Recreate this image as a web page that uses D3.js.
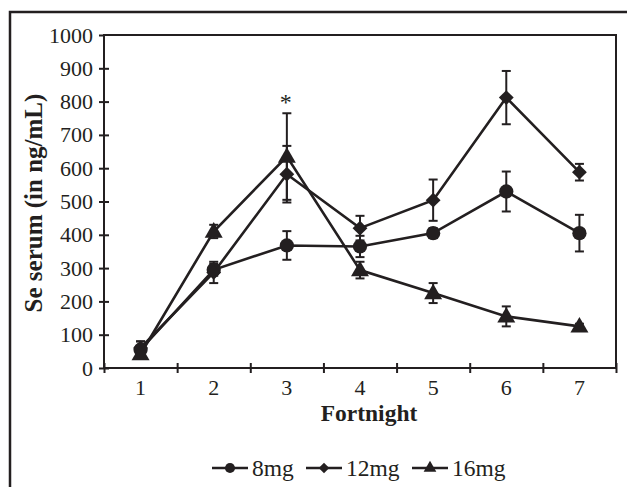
<!DOCTYPE html>
<html>
<head>
<meta charset="utf-8">
<script src="https://cdn.jsdelivr.net/npm/d3@7"></script>
<style>
  body { margin: 0; background: #fff; }
  svg text { font-family: "Liberation Serif", "Times New Roman", serif; fill: #231f20; }
</style>
</head>
<body>
<svg id="chart"></svg>
<script>
const width = 627;
const height = 487;
const ink = "#231f20";

// Data
const fortnights = ["1", "2", "3", "4", "5", "6", "7"];
const mean8 = [55, 295, 368, 365, 405, 530, 405];
const err8 = [25, 18, 43, 32, 15, 60, 55];
const mean12 = [60, 287, 582, 420, 504, 812, 588];
const err12 = [20, 32, 85, 37, 62, 80, 25];
const mean16 = [42, 410, 635, 294, 225, 155, 125];
const err16 = [8, 20, 130, 25, 30, 30, 8];
const yTicks = [0, 100, 200, 300, 400, 500, 600, 700, 800, 900, 1000];

const series = [
    { name: "8mg", symbol: d3.symbolCircle, size: 160, values: mean8, errors: err8 },
    { name: "12mg", symbol: d3.symbolDiamond2, size: 140, values: mean12, errors: err12 },
    { name: "16mg", symbol: d3.symbolTriangle, size: 140, values: mean16, errors: err16 }
];

const plot = { left: 104, right: 616, top: 35, bottom: 368 };

const svg = d3.select("#chart")
    .attr("width", width)
    .attr("height", height);

// outer frame (left and top edges only)
svg.append("path")
    .attr("d", `M10,${height} L10,12 L${width},12`)
    .attr("fill", "none")
    .attr("stroke", ink)
    .attr("stroke-width", 2.5);

const x = d3.scaleBand()
    .domain(fortnights)
    .range([plot.left, plot.right]);

const xEdge = d3.scaleLinear()
    .domain([0, fortnights.length])
    .range([plot.left, plot.right]);

const y = d3.scaleLinear()
    .domain([0, 1000])
    .range([plot.bottom, plot.top]);

// plot box
svg.append("rect")
    .attr("x", plot.left)
    .attr("y", plot.top)
    .attr("width", plot.right - plot.left)
    .attr("height", plot.bottom - plot.top)
    .attr("fill", "none")
    .attr("stroke", ink)
    .attr("stroke-width", 2);

// y axis
const yAxis = svg.append("g")
    .attr("transform", `translate(${plot.left},0)`)
    .call(d3.axisLeft(y).tickValues(yTicks).tickFormat(d3.format("d")).tickSize(5).tickPadding(6));
yAxis.select(".domain").remove();
yAxis.selectAll(".tick line")
    .attr("x1", d => d === 1000 ? 0 : 5)
    .attr("stroke", ink)
    .attr("stroke-width", 2);
yAxis.selectAll(".tick text")
    .attr("font-size", 22)
    .attr("font-family", "Liberation Serif");

// x axis: tick marks between categories, labels at centres
const xTickAxis = svg.append("g")
    .attr("transform", `translate(0,${plot.bottom})`)
    .call(d3.axisBottom(xEdge).ticks(fortnights.length).tickSize(5).tickFormat(""));
xTickAxis.select(".domain").remove();
xTickAxis.selectAll(".tick line")
    .attr("y1", -5)
    .attr("stroke", ink)
    .attr("stroke-width", 2);

const xAxis = svg.append("g")
    .attr("transform", `translate(0,${plot.bottom})`)
    .call(d3.axisBottom(x).tickSize(0).tickPadding(11));
xAxis.select(".domain").remove();
xAxis.selectAll(".tick text")
    .attr("font-size", 22)
    .attr("font-family", "Liberation Serif");

// axis titles
svg.append("text")
    .attr("transform", `translate(42,203) rotate(-90)`)
    .attr("text-anchor", "middle")
    .attr("font-size", 25)
    .attr("font-weight", "bold")
    .text("Se serum (in ng/mL)");

svg.append("text")
    .attr("x", 369)
    .attr("y", 421)
    .attr("text-anchor", "middle")
    .attr("font-size", 23.5)
    .attr("font-weight", "bold")
    .text("Fortnight");

const cx = (d, i) => x(fortnights[i]) + x.bandwidth() / 2;
const line = d3.line()
    .x(cx)
    .y(d => y(d));

// lines
series.forEach(s => {
    svg.append("path")
        .datum(s.values)
        .attr("d", line)
        .attr("fill", "none")
        .attr("stroke", ink)
        .attr("stroke-width", 2.6);
});

// error bars
const cap = 4.5;
series.forEach(s => {
    const g = svg.append("g").attr("stroke", ink).attr("stroke-width", 2);
    s.values.forEach((v, i) => {
        const px = cx(v, i);
        const top = y(v + s.errors[i]);
        const bot = y(v - s.errors[i]);
        g.append("line").attr("x1", px).attr("x2", px).attr("y1", top).attr("y2", bot);
        g.append("line").attr("x1", px - cap).attr("x2", px + cap).attr("y1", top).attr("y2", top);
        g.append("line").attr("x1", px - cap).attr("x2", px + cap).attr("y1", bot).attr("y2", bot);
    });
});

// markers
series.forEach(s => {
    svg.append("g")
        .selectAll("path")
        .data(s.values)
        .enter()
        .append("path")
        .attr("transform", (d, i) => `translate(${cx(d, i)},${y(d) + (s.symbol === d3.symbolTriangle ? 1 : 0)})`)
        .attr("d", d3.symbol().type(s.symbol).size(s.size))
        .attr("fill", ink);
});

// significance mark
svg.append("text")
    .attr("x", cx(0, 2) - 1)
    .attr("y", 110)
    .attr("text-anchor", "middle")
    .attr("font-size", 24)
    .text("*");

// legend
const legend = svg.append("g").attr("transform", "translate(212,468)");
const legendX = [0, 94, 200];
series.forEach((s, i) => {
    const g = legend.append("g").attr("transform", `translate(${legendX[i]},0)`);
    g.append("line")
        .attr("x1", 0).attr("x2", 36)
        .attr("stroke", ink)
        .attr("stroke-width", 2.6);
    g.append("path")
        .attr("transform", "translate(18,0)")
        .attr("d", d3.symbol().type(s.symbol).size(s.size * 0.5))
        .attr("fill", ink);
    g.append("text")
        .attr("x", 40)
        .attr("y", 7.5)
        .attr("font-size", 23.5)
        .text(s.name);
});
</script>
</body>
</html>
